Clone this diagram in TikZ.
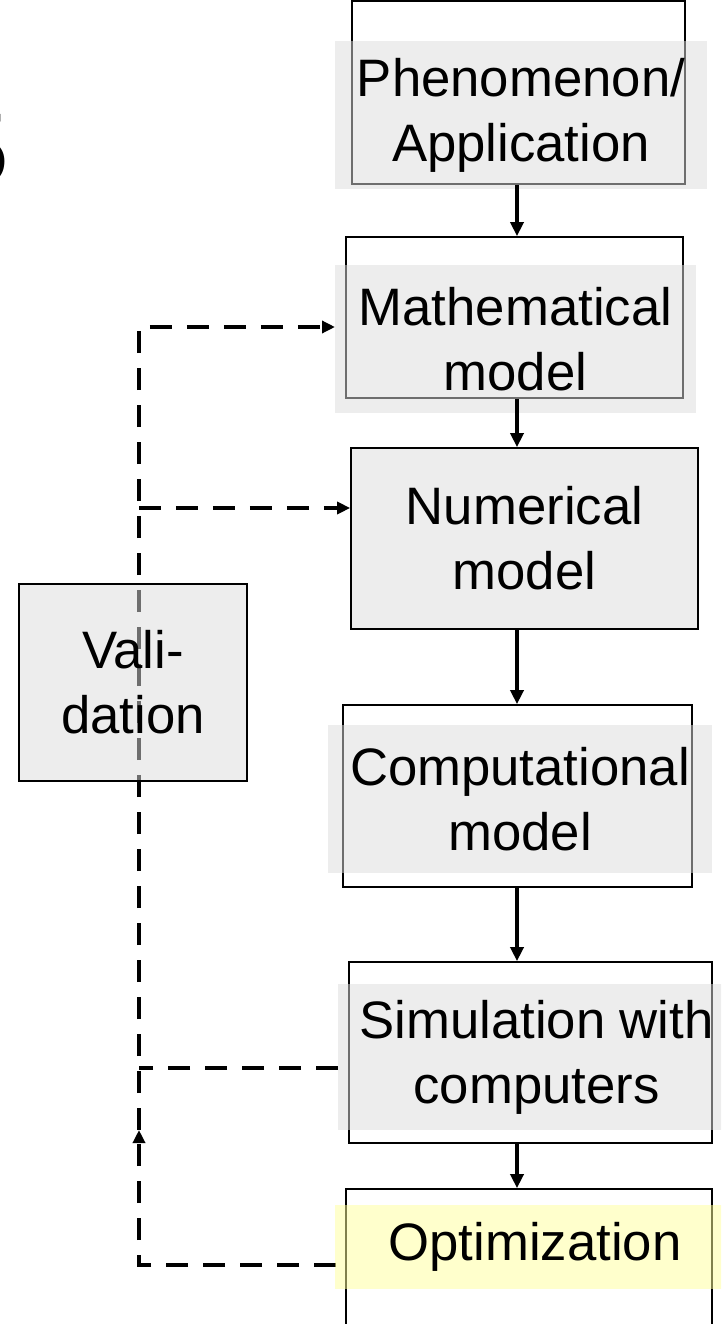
\documentclass[tikz,border=0pt]{standalone}
\usepackage{fontspec}
\setmainfont{Liberation Sans}
\usetikzlibrary{arrows.meta}
\definecolor{pgray}{HTML}{DCDCDC}
\definecolor{pyellow}{HTML}{FFFF99}
\tikzset{
  frame/.style={draw=black,line width=1pt,inner sep=0pt},
  veil/.style={fill=pgray,fill opacity=0.5,text opacity=1,align=center,inner sep=0pt,font=\fontsize{30}{37}\selectfont},
  ylveil/.style={veil,fill=pyellow},
  grbox/.style={frame,fill=black!7,align=center,font=\fontsize{30}{37}\selectfont},
  valbox/.style={frame,fill=pgray,fill opacity=0.5,text opacity=1,align=center,font=\fontsize{30}{37}\selectfont},
  arr/.style={-{Triangle[length=0.28cm,width=0.26cm]},line width=2.2pt},
  dsh/.style={line width=2.8pt,dash pattern=on 0.44cm off 0.3cm},
  dsharr/.style={dsh,-{Triangle[length=0.26cm,width=0.24cm]}},
}
\begin{document}
\begin{tikzpicture}[x=0.02cm,y=-0.02cm]
  \useasboundingbox (0,0) rectangle (721,1324);
  \clip (0,0) rectangle (721,1324);
  % cut-off glyph at the left margin
  \node[anchor=base east,inner sep=0pt,font=\fontsize{58}{58}\selectfont] (glyph) at (10,185) {5};
  % frames
  \node[frame,minimum width=6.66cm,minimum height=3.66cm] (phen) at (518.5,92.5) {};
  \node[frame,minimum width=6.74cm,minimum height=3.22cm] (math) at (514.5,317.5) {};
  \node[grbox,minimum width=6.94cm,minimum height=3.62cm] (num) at (524.5,538.5) {Numerical\\model};
  \node[frame,minimum width=6.98cm,minimum height=3.64cm] (comp) at (517.5,796) {};
  \node[frame,minimum width=7.26cm,minimum height=3.62cm] (sim) at (530.5,1052.5) {};
  \node[frame,minimum width=7.32cm,minimum height=3.62cm] (opt) at (529,1279.5) {};
  % feedback loop
  \coordinate (vtop) at (139,327);
  \coordinate (vnum) at (139,508);
  \coordinate (vsim) at (139,1068);
  \coordinate (vtip) at (139,1130);
  \coordinate (vbot) at (139,1265);
  \draw[dsharr] (vtip) -- (vtop) -- (335,327);
  \draw[dsharr] (vnum) -- (num.west |- vnum);
  \draw[dsh] (338,1068) -- (vsim);
  \draw[dsharr] (336,1265) -- (vbot) -- (vtip);
  % labels on veils
  \node[veil,minimum width=7.44cm,minimum height=2.96cm] (phenlbl) at (521,115) {Phenomenon/\\Application};
  \node[veil,minimum width=7.22cm,minimum height=2.96cm] (mathlbl) at (515.5,339) {Mathematical\\model};
  \node[veil,minimum width=7.68cm,minimum height=2.98cm] (complbl) at (520,799) {Computational\\model};
  \node[veil,minimum width=7.94cm,minimum height=2.92cm] (simlbl) at (536.5,1057) {Simulation with\\computers};
  \node[ylveil,minimum width=8cm,minimum height=1.68cm] (optlbl) at (535,1247) {Optimization};
  \node[valbox,minimum width=4.56cm,minimum height=3.94cm] (valid) at (133,682.5) {Vali-\\dation};
  % main chain
  \coordinate (col) at (517,0);
  \draw[arr] (phen.south -| col) -- (math.north -| col);
  \draw[arr] (math.south -| col) -- (num.north -| col);
  \draw[arr] (num.south -| col) -- (comp.north -| col);
  \draw[arr] (comp.south -| col) -- (sim.north -| col);
  \draw[arr] (sim.south -| col) -- (opt.north -| col);
\end{tikzpicture}
\end{document}
